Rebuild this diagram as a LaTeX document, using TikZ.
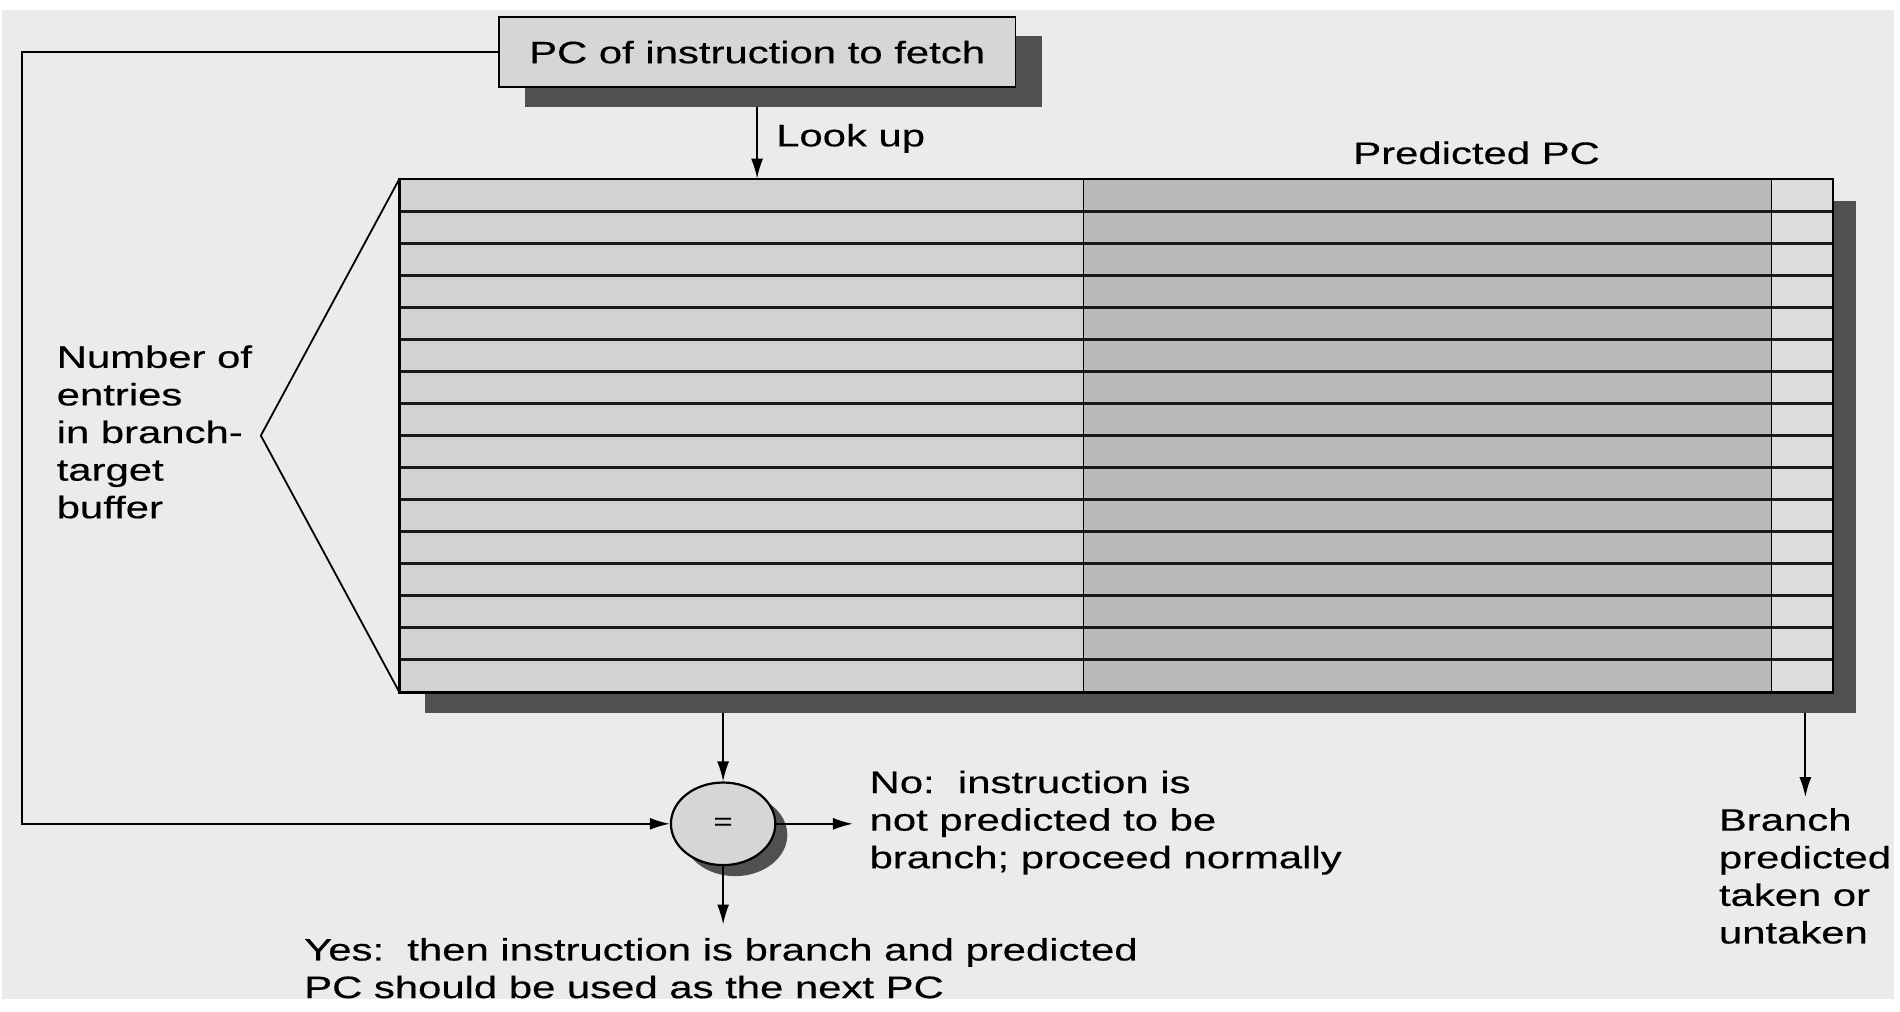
\documentclass[tikz,border=0pt]{standalone}
\usepackage{fontspec}
\setmainfont{Liberation Sans}[FakeStretch=1.35,FakeBold=0.4]
\usetikzlibrary{shapes.geometric,shadows,arrows.meta}
\definecolor{bg}{HTML}{EBEBEB}
\definecolor{boxgray}{HTML}{D6D6D6}
\definecolor{shadowgray}{HTML}{505050}
\definecolor{leftcol}{HTML}{D2D2D2}
\definecolor{midcol}{HTML}{BABABA}
\definecolor{rightcol}{HTML}{DDDDDD}
\definecolor{linecol}{HTML}{1A1A1A}
\begin{document}
\begin{tikzpicture}[x=0.6067pt,y=-0.6067pt,
  every node/.style={font=\fontsize{15.5}{18.8}\selectfont},
  line width=0.9pt,
  arr/.style={-{Latex[length=10pt,width=6pt]}, line width=0.9pt},
  pcbox/.style={draw, fill=boxgray, minimum width=258.5pt, minimum height=35.2pt, inner sep=0pt,
    drop shadow={shadow xshift=13.3pt, shadow yshift=-9.7pt, fill=shadowgray, opacity=1}},
  btbbox/.style={draw, fill=leftcol, minimum width=715.9pt, minimum height=256pt, inner sep=0pt,
    drop shadow={shadow xshift=12.1pt, shadow yshift=-10.9pt, fill=shadowgray, opacity=1}},
  eqnode/.style={ellipse, draw, line width=1.1pt, fill=boxgray, minimum width=52.2pt, minimum height=41.3pt, inner sep=0pt,
    font=\fontsize{12}{14}\selectfont,
    drop shadow={shadow xshift=6pt, shadow yshift=-5.5pt, fill=shadowgray, opacity=1}},
  lbl/.style={inner sep=0pt, align=left},
  rowline/.style={line width=1.1pt, draw=linecol}
]
\useasboundingbox (0,0) rectangle (1566,834.1);
\fill[white] (0,0) rectangle (1566,834.1);
\fill[bg] (2,8) rectangle (1561,823);

% PC box
\node[pcbox] (pc) at (624,43) {PC of instruction to fetch};

% Branch-target buffer table
\node[btbbox] (btb) at (920,359) {};
\fill[midcol] (893,148) rectangle (1460,570);
\fill[rightcol] (1460,148) rectangle (1510,570);
\foreach \i in {1,...,15} {
  \draw[rowline] (330,{148+\i*26.375}) -- (1510,{148+\i*26.375});
}
\draw (893,148) -- (893,570);
\draw (1460,148) -- (1460,570);
\draw[line width=1.1pt] (btb.north west) rectangle (btb.south east);

% bracket
\coordinate (apex) at (215,359);
\draw (btb.north west) -- (apex) -- (btb.south west);

% comparator
\node[eqnode] (eq) at (596,679) {=};

% coordinates for free ends
\coordinate (lookstart) at (624,88);
\coordinate (cmpstart) at (596,588);
\coordinate (noend) at (703,679);
\coordinate (yesend) at (596,762);
\coordinate (bpstart) at (1488,588);
\coordinate (bpend) at (1488,657);
\coordinate (loopcorner) at (18,679);

% connectors
\draw[arr] (lookstart) -- (lookstart |- btb.north);
\draw[arr] (cmpstart) -- (eq.north);
\draw[arr] (eq.east) -- (noend);
\draw[arr] (eq.south) -- (yesend);
\draw[arr] (bpstart) -- (bpend);
\draw[arr] (pc.west) -| (loopcorner) -- (eq.west);

% labels
\node[lbl, anchor=west] (lookup) at (639,114) {Look up};
\node[lbl] (predpc) at (1217,126) {Predicted PC};
\node[lbl, anchor=west] (numentries) at (46,356) {Number of\\entries\\in branch-\\target\\buffer};
\node[lbl, anchor=west] (nolbl) at (716,678) {No:\ \ instruction is\\not predicted to be\\branch; proceed normally};
\node[lbl, anchor=west] (yeslbl) at (250,798) {Yes:\ \ then instruction is branch and predicted\\PC should be used as the next PC};
\node[lbl, anchor=west] (bplbl) at (1416,722) {Branch\\predicted\\taken or\\untaken};
\end{tikzpicture}
\end{document}
